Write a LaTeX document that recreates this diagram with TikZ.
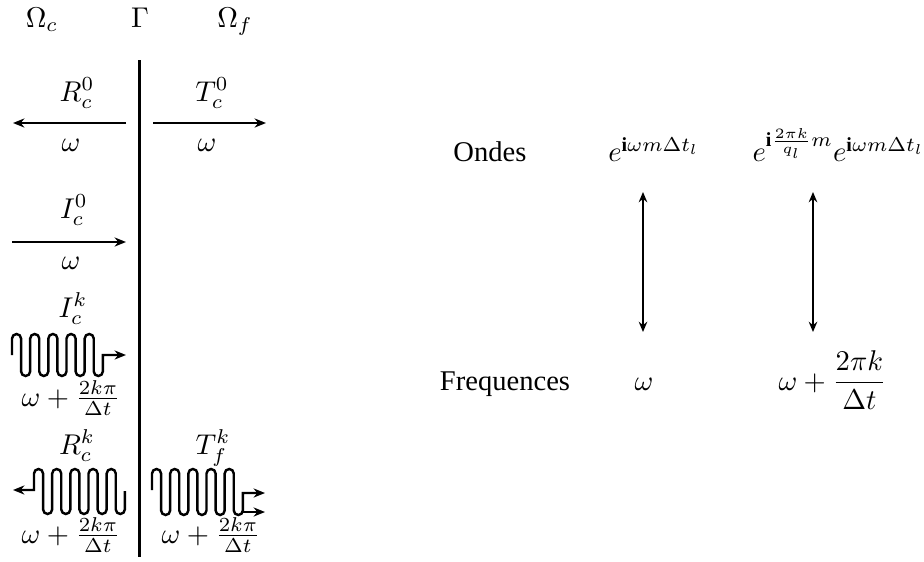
\documentclass[tikz,border=0pt]{standalone}
\usepackage{fontspec}
\setmainfont{Liberation Serif}
\usetikzlibrary{arrows.meta}
\tikzset{
  lbl/.style={inner sep=0pt, anchor=base},
  ln/.style={line width=0.85pt},
  arr/.style={line width=0.85pt, -{Stealth[length=4pt,width=3.2pt,inset=1.3pt]}},
  darr/.style={line width=0.75pt, {Stealth[length=3.6pt,width=3pt,inset=1.2pt]}-{Stealth[length=3.6pt,width=3pt,inset=1.2pt]}},
}
\newcommand{\hup}{arc[start angle=180,end angle=0,radius=1.59pt]}
\newcommand{\hdn}{arc[start angle=180,end angle=360,radius=1.59pt]}
\begin{document}
\begin{tikzpicture}[x=0.35pt,y=-0.35pt]
\useasboundingbox (0,0) rectangle (924,562);
% headers
\node[lbl] (omc) at (42,27.5) {$\Omega_c$};
\node[lbl] (gam) at (140,27.5) {$\Gamma$};
\node[lbl] (omf) at (235,27.5) {$\Omega_f$};
% interface
\coordinate (gtop) at (139.5,60);
\coordinate (gbot) at (139.5,557);
\draw[ln] (gtop) -- (gbot);
% R_c^0 and T_c^0
\node[lbl] (rc0) at (77,101) {$R_c^0$};
\node[lbl] (tc0) at (212,101) {$T_c^0$};
\coordinate (r0a) at (126,123); \coordinate (r0b) at (13,123);
\coordinate (t0a) at (153,123); \coordinate (t0b) at (266,123);
\draw[arr] (r0a) -- (r0b);
\draw[arr] (t0a) -- (t0b);
\node[lbl] (w1) at (71,151) {$\omega$};
\node[lbl] (w2) at (207,151) {$\omega$};
% I_c^0
\node[lbl] (ic0) at (74,218) {$I_c^0$};
\coordinate (i0a) at (12,242); \coordinate (i0b) at (126,242);
\draw[arr] (i0a) -- (i0b);
\node[lbl] (w3) at (71,269) {$\omega$};
% I_c^k
\node[lbl] (ick) at (73,317) {$I_c^k$};
\coordinate (ika) at (12,355); \coordinate (ikb) at (126,355);
\draw[arr] (ika) -- (12,338.55)
  \foreach \i in {1,2,3,4}{ \hup -- ++(0,32.9) \hdn -- ++(0,-32.9) }
  \hup -- ++(0,32.9) \hdn -- ++(0,-16.45) -- (ikb);
\node[lbl] (f1) at (71,406) {$\omega+\frac{2k\pi}{\Delta t}$};
% R_c^k
\node[lbl] (rck) at (77,454) {$R_c^k$};
\coordinate (rka) at (13,490); \coordinate (rkb) at (34,490);
\draw[line width=0.85pt, {Stealth[length=4pt,width=3.2pt,inset=1.3pt]}-] (rka) -- (rkb) -- (34,473.55)
  \foreach \i in {1,2,3,4}{ \hup -- ++(0,35.9) \hdn -- ++(0,-35.9) }
  \hup -- ++(0,35.9) \hdn -- ++(0,-18.45);
% T_f^k
\node[lbl] (tfk) at (213,454) {$T_f^k$};
\coordinate (tka) at (152,490); \coordinate (tkb) at (265,493);
\draw[arr] (tka) -- (152,473.55)
  \foreach \i in {1,2,3,4}{ \hup -- ++(0,36.9) \hdn -- ++(0,-36.9) }
  \hup -- ++(0,36.9) \hdn -- ++(0,-17.45) -- (tkb);
\coordinate (tkc) at (243,512); \coordinate (tkd) at (265,512);
\draw[arr] (tkc) -- (tkd);
\node[lbl] (f2) at (71,543) {$\omega+\frac{2k\pi}{\Delta t}$};
\node[lbl] (f3) at (211,543) {$\omega+\frac{2k\pi}{\Delta t}$};
% right part
\node[lbl] (ondes) at (490,161.5) {Ondes};
\node[lbl] (e1) at (654,161.5) {$e^{\mathbf{i}\omega m\Delta t_l}$};
\node[lbl,anchor=base west] (e2) at (752,161.5) {$e^{\mathbf{i}\frac{2\pi k}{q_l}m}e^{\mathbf{i}\omega m\Delta t_l}$};
\node[lbl] (freq) at (505,390) {Frequences};
\node[lbl] (w4) at (644,390) {$\omega$};
\node[lbl,anchor=base west] (f4) at (778,390) {$\displaystyle\omega+\frac{2\pi k}{\Delta t}$};
\coordinate (a1t) at (643,192); \coordinate (a1b) at (643,332);
\coordinate (a2t) at (813,192); \coordinate (a2b) at (813,332);
\draw[darr] (a1t) -- (a1b);
\draw[darr] (a2t) -- (a2b);
\end{tikzpicture}
\end{document}
